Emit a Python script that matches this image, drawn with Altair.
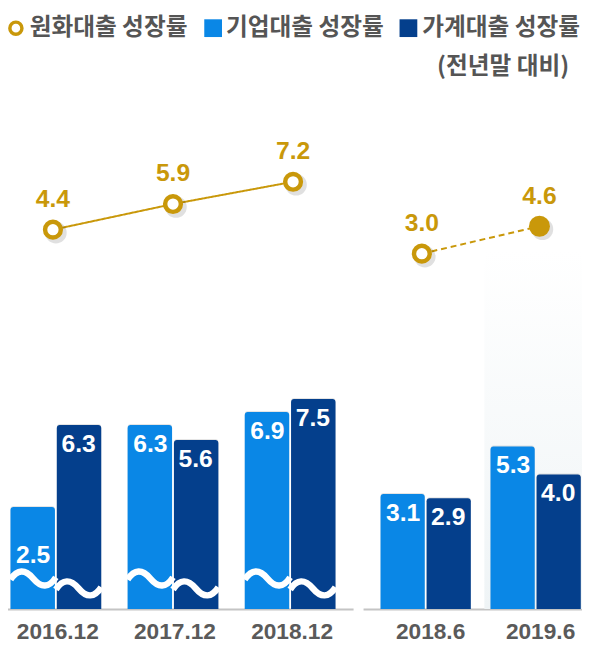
import altair as alt
import pandas as pd

# ---------------- data ----------------
periods_left = ["2016.12", "2017.12", "2018.12"]
periods_right = ["2018.6", "2019.6"]
periods = periods_left + periods_right

corp_growth = [2.5, 6.3, 6.9, 3.1, 5.3]        # 기업대출 성장률
house_growth = [6.3, 5.6, 7.5, 2.9, 4.0]       # 가계대출 성장률
won_growth = [4.4, 5.9, 7.2, 3.0, 4.6]         # 원화대출 성장률

series_names = ["원화대출 성장률", "기업대출 성장률", "가계대출 성장률"]
note_text = "(전년말 대비)"

# ---------------- styling ----------------
GOLD = "#C9980A"
BLUE = "#0A87E6"
NAVY = "#043F8C"
GRAY = "#5A5A5A"
NUM_FONT = "Liberation Sans"
KR_FONT = "Noto Sans CJK KR"

W, H = 582, 605
BAR_DOMAIN = [-2.23, 25.41]
LINE_DOMAIN = [-17.77, 17.1]

bar_rows = []
line_rows = []
for i, p in enumerate(periods):
    panel = "L" if p in periods_left else "R"
    bar_rows.append({"period": p, "series": series_names[1], "value": corp_growth[i], "panel": panel})
    bar_rows.append({"period": p, "series": series_names[2], "value": house_growth[i], "panel": panel})
    line_rows.append({"period": p, "value": won_growth[i], "panel": panel})
bar_df = pd.DataFrame(bar_rows)
line_df = pd.DataFrame(line_rows)

panel_cfg = {
    "L": dict(domain=periods_left, range=[-15.3, 349.9], paddingInner=0.225, paddingOuter=0.15, labelOffset=2),
    "R": dict(domain=periods_right, range=[360, 598.5], paddingInner=0.179, paddingOuter=0.159, labelOffset=5),
}


def xenc(panel, show_axis=False):
    cfg = panel_cfg[panel]
    axis = None
    if show_axis:
        axis = alt.Axis(orient="bottom", labelFont=NUM_FONT, labelFontSize=23, labelFontWeight="bold",
                        labelColor=GRAY, domainColor="#C4C4C4", domainWidth=2, ticks=False,
                        labelPadding=12, labelAngle=0, grid=False, labelOffset=cfg["labelOffset"])
    return alt.X("period:N", title=None, axis=axis,
                 scale=alt.Scale(domain=cfg["domain"], range=cfg["range"],
                                 paddingInner=cfg["paddingInner"], paddingOuter=cfg["paddingOuter"]))


xoff_bar = alt.XOffset("series:N", scale=alt.Scale(domain=series_names[1:], paddingInner=0.04, paddingOuter=0))
xoff_pt = alt.XOffset("series:N", scale=alt.Scale(type="point", domain=series_names[1:], padding=0.5))
ybar = alt.Y("value:Q", axis=None, scale=alt.Scale(domain=BAR_DOMAIN, nice=False, zero=False))
yline = alt.Y("value:Q", axis=None, scale=alt.Scale(domain=LINE_DOMAIN, nice=False, zero=False))
colr = alt.Color("series:N", legend=None, scale=alt.Scale(domain=series_names[1:], range=[BLUE, NAVY]))

wave_path = "M-1,0.05 C-0.7,-0.42 -0.35,-0.42 0,0 C0.35,0.42 0.7,0.42 1,-0.05"

layers = []

# background gradient for the 2019.6 panel
bg = alt.Chart(pd.DataFrame({"k": [0]})).mark_rect(
    color=alt.LinearGradient(gradient="linear", x1=0, x2=0, y1=0, y2=1,
                             stops=[alt.GradientStop(color="#FFFFFF", offset=0),
                                    alt.GradientStop(color="#EFF4F6", offset=1)])
).encode(x=alt.value(483), x2=alt.value(590), y=alt.value(242), y2=alt.value(H))
layers.append(bg)

for panel in ["L", "R"]:
    bdf = bar_df[bar_df.panel == panel]
    ldf = line_df[line_df.panel == panel]

    # soft shadow to the right of each bar
    shadow = alt.Chart(bdf).mark_bar(cornerRadiusTopLeft=3, cornerRadiusTopRight=3, color="#000000",
                                     opacity=0.10, xOffset=3, yOffset=-1).encode(
        x=xenc(panel), xOffset=xoff_bar, y=ybar, y2=alt.datum(BAR_DOMAIN[0]))
    layers.append(shadow)

    bars = alt.Chart(bdf).mark_bar(cornerRadiusTopLeft=3, cornerRadiusTopRight=3).encode(
        x=xenc(panel, show_axis=True), xOffset=xoff_bar, y=ybar, y2=alt.datum(BAR_DOMAIN[0]), color=colr)
    layers.append(bars)

    if panel == "L":
        for sname, ypix in [(series_names[1], 574), (series_names[2], 584)]:
            wave = alt.Chart(bdf[bdf.series == sname]).mark_point(
                shape=wave_path, filled=False, stroke="white", strokeWidth=6.5, size=2116,
                strokeCap="butt", opacity=1
            ).encode(x=xenc(panel), xOffset=xoff_pt, y=alt.value(ypix))
            layers.append(wave)

    small = bdf[(bdf.period == "2016.12") & (bdf.series == series_names[1])]
    rest = bdf.drop(small.index)
    for d, dy in [(rest, 7), (small, 37)]:
        if len(d) == 0:
            continue
        t = alt.Chart(d).mark_text(font=NUM_FONT, fontSize=25, fontWeight="bold", color="white",
                                   baseline="top", dy=dy).encode(
            x=xenc(panel), xOffset=xoff_pt, y=ybar, text=alt.Text("value:Q", format=".1f"))
        layers.append(t)

    line = alt.Chart(ldf).mark_line(color=GOLD, strokeWidth=2,
                                    strokeDash=[6, 4] if panel == "R" else [1, 0]).encode(
        x=xenc(panel), y=yline)
    layers.append(line)

    open_df = ldf[ldf.period != "2019.6"]
    filled_df = ldf[ldf.period == "2019.6"]
    pshadow = alt.Chart(ldf).mark_point(shape="circle", filled=True, color="#000000", opacity=0.12,
                                        size=480, xOffset=3, yOffset=3).encode(x=xenc(panel), y=yline)
    layers.append(pshadow)
    pts = alt.Chart(open_df).mark_point(shape="circle", filled=True, fill="white", stroke=GOLD,
                                        strokeWidth=4.5, size=254, opacity=1).encode(x=xenc(panel), y=yline)
    layers.append(pts)
    if len(filled_df):
        fp = alt.Chart(filled_df).mark_point(shape="circle", filled=True, color=GOLD, size=452,
                                             opacity=1).encode(x=xenc(panel), y=yline)
        layers.append(fp)

    lt = alt.Chart(ldf).mark_text(font=NUM_FONT, fontSize=25, fontWeight="bold", color=GOLD,
                                  baseline="alphabetic", dy=-23).encode(
        x=xenc(panel), y=yline, text=alt.Text("value:Q", format=".1f"))
    layers.append(lt)

# ---------------- legend ----------------
LEG_Y = 16
leg_circle = alt.Chart(pd.DataFrame({"s": [series_names[0]]})).mark_point(
    shape="circle", filled=False, stroke=GOLD, strokeWidth=3.5, size=150, opacity=1
).encode(x=alt.value(8), y=alt.value(LEG_Y))
leg_sq1 = alt.Chart(pd.DataFrame({"s": [series_names[1]]})).mark_square(
    color=BLUE, size=324, opacity=1).encode(x=alt.value(208), y=alt.value(LEG_Y))
leg_sq2 = alt.Chart(pd.DataFrame({"s": [series_names[2]]})).mark_square(
    color=NAVY, size=324, opacity=1).encode(x=alt.value(406), y=alt.value(LEG_Y))
layers += [leg_circle, leg_sq1, leg_sq2]
for name, xpix in zip(series_names, [22, 221, 420]):
    lt = alt.Chart(pd.DataFrame({"s": [name]})).mark_text(
        font=KR_FONT, fontSize=24, fontWeight="bold", color="#555555", align="left", baseline="middle"
    ).encode(x=alt.value(xpix), y=alt.value(LEG_Y), text="s:N")
    layers.append(lt)
note = alt.Chart(pd.DataFrame({"s": [note_text]})).mark_text(
    font=KR_FONT, fontSize=24, fontWeight="bold", color="#555555", align="right", baseline="middle"
).encode(x=alt.value(569), y=alt.value(55), text="s:N")
layers.append(note)

chart = alt.layer(*layers).resolve_scale(
    x="independent", y="independent", xOffset="independent"
).properties(
    width=W, height=H, autosize=alt.AutoSizeParams(type="none"),
    padding={"left": 0, "top": 0, "right": 0, "bottom": 33}
).configure_view(stroke=None)

chart.save("out.html", embed_options={"renderer": "svg", "actions": False})
